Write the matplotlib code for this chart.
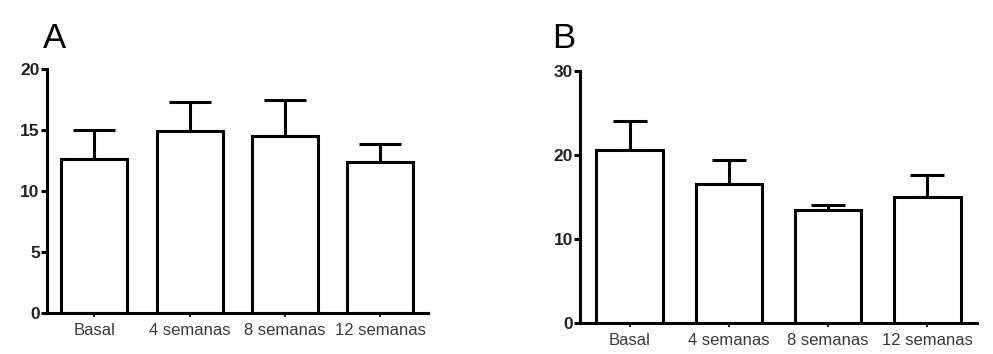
import matplotlib.pyplot as plt
import numpy as np

plt.rcParams['font.family'] = ['Liberation Sans', 'DejaVu Sans']

grupos = ['Basal', '4 semanas', '8 semanas', '12 semanas']

# Panel A
media_a = [12.65, 14.9, 14.5, 12.35]
err_a = [2.35, 2.4, 3.0, 1.55]
yticks_a = [0, 5, 10, 15, 20]

# Panel B
media_b = [20.6, 16.6, 13.4, 15.0]
err_b = [3.5, 2.8, 0.7, 2.6]
yticks_b = [0, 10, 20, 30]

fig = plt.figure(figsize=(9.93, 3.54), dpi=100)
ax_a = fig.add_axes([0.047, 0.115, 0.384, 0.690])
ax_b = fig.add_axes([0.584, 0.088, 0.400, 0.711])

lw = 2.2


def panel(ax, media, err, yticks, ymax, capsize, width):
    x = np.arange(len(grupos))
    ax.bar(x, media, width=width, color='white', edgecolor='black',
           linewidth=lw, zorder=2)
    ax.errorbar(x, media, yerr=[np.zeros(len(err)), err], fmt='none',
                ecolor='black', elinewidth=lw, capsize=capsize,
                capthick=lw, zorder=1)
    ax.set_xlim(-0.5, len(grupos) - 0.5)
    ax.set_ylim(0, ymax)
    ax.set_yticks(yticks)
    ax.set_xticks(x)
    ax.set_xticklabels(grupos, fontsize=12, color='#3a3a3a')
    for lab in ax.get_yticklabels():
        lab.set_fontweight('bold')
        lab.set_fontsize(12.5)
        lab.set_color('#222222')
    ax.spines['top'].set_visible(False)
    ax.spines['right'].set_visible(False)
    ax.spines['left'].set_linewidth(lw)
    ax.spines['bottom'].set_linewidth(lw)
    ax.tick_params(axis='y', length=4, width=lw, pad=1)
    ax.tick_params(axis='x', length=3, width=1.2, pad=4)


panel(ax_a, media_a, err_a, yticks_a, 20, 15, 0.69)
panel(ax_b, media_b, err_b, yticks_b, 30, 12.5, 0.67)

fig.text(0.043, 0.89, 'A', fontsize=25, ha='left', va='center')
fig.text(0.556, 0.89, 'B', fontsize=25, ha='left', va='center')

fig.savefig('out.png', dpi=100)
